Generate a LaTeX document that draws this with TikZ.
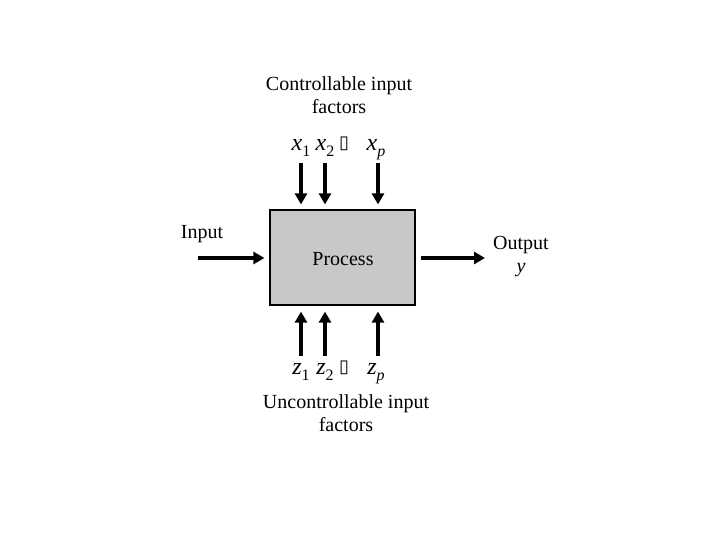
\documentclass[tikz,border=0pt]{standalone}
\usepackage{fontspec}
\setmainfont{Liberation Serif}
\newfontfamily\symfont{DejaVu Sans}
\usetikzlibrary{arrows.meta, positioning}
\definecolor{ink}{HTML}{000000}
\definecolor{boxGrey}{HTML}{c8c8c8}
\newcommand{\varsub}[2]{\textit{#1}\raisebox{-6pt}{\fontsize{16}{16}\selectfont #2}}
\newcommand{\gapbox}{{\symfont\fontsize{18}{18}\selectfont ▯}}

\begin{document}
\begin{tikzpicture}[x=1pt, y=-1pt,
    every node/.style={font=\fontsize{20}{23}\selectfont, inner sep=0pt,
                       text=ink},
    procbox/.style={draw=ink, line width=1.2pt, fill=boxGrey,
                    minimum width=145pt, minimum height=95pt},
    flow/.style={-{Triangle[length=11pt,width=12pt]}, line width=3.8pt,
                 draw=ink},
    var/.style={font=\fontsize{24}{24}\selectfont, anchor=base},
    ]

\useasboundingbox (0,0) rectangle (720,540);

% ====================================================================
% Process box
% ====================================================================
\node[procbox] (proc) at (342.5,257.5) {};
\node (proclabel) at (343,259) {Process};

% ====================================================================
% Controllable input factors (top)
% ====================================================================
\node[align=center] (ctrl) at (339,95) {Controllable input\\factors};
\node[var] (x1) at (301,151) {\varsub{x}{1}};
\node[var] (x2) at (325,151) {\varsub{x}{2}};
\node[var] (xdots) at (344,149) {\gapbox};
\node[var] (xp) at (376,151) {\varsub{x}{\textit{p}}};

\coordinate (x1top) at (301,163);
\coordinate (x2top) at (325,163);
\coordinate (xptop) at (378,163);
\draw[flow, shorten >=5pt] (x1top) -- (x1top |- proc.north);
\draw[flow, shorten >=5pt] (x2top) -- (x2top |- proc.north);
\draw[flow, shorten >=5pt] (xptop) -- (xptop |- proc.north);

% ====================================================================
% Uncontrollable input factors (bottom)
% ====================================================================
\node[var] (z1) at (301,374) {\varsub{z}{1}};
\node[var] (z2) at (325,374) {\varsub{z}{2}};
\node[var] (zdots) at (344,372) {\gapbox};
\node[var] (zp) at (376,374) {\varsub{z}{\textit{p}}};
\node[align=center] (unctrl) at (346,413) {Uncontrollable input\\factors};

\coordinate (z1bot) at (301,356);
\coordinate (z2bot) at (325,356);
\coordinate (zpbot) at (378,356);
\draw[flow, shorten >=6pt] (z1bot) -- (z1bot |- proc.south);
\draw[flow, shorten >=6pt] (z2bot) -- (z2bot |- proc.south);
\draw[flow, shorten >=6pt] (zpbot) -- (zpbot |- proc.south);

% ====================================================================
% Input and output
% ====================================================================
\node (input) at (202,234) {Input};
\coordinate (instart) at (198,258);
\draw[flow, shorten >=5pt] (instart) -- (instart -| proc.west);

\node[align=center] (output) at (521,257) {Output\\\textit{y}};
\coordinate (outend) at (485,258);
\draw[flow, shorten <=5pt] (outend -| proc.east) -- (outend);

\end{tikzpicture}
\end{document}
